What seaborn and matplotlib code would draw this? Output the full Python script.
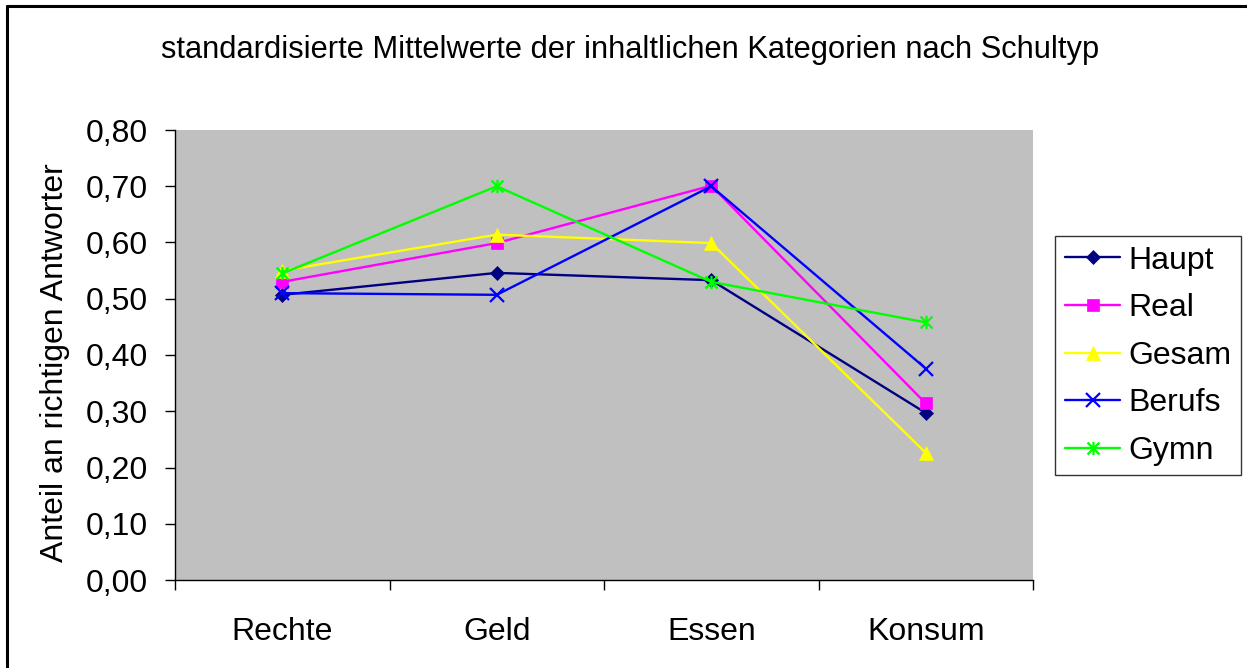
import matplotlib
matplotlib.use("Agg")
import matplotlib.pyplot as plt
import seaborn as sns
import pandas as pd
from matplotlib.path import Path
from matplotlib.lines import Line2D
from matplotlib.ticker import FixedLocator, FuncFormatter, MultipleLocator

categories = ["Rechte", "Geld", "Essen", "Konsum"]
series_names = ["Haupt", "Real", "Gesam", "Berufs", "Gymn"]
haupt = [0.507, 0.546, 0.533, 0.297]
real = [0.530, 0.599, 0.701, 0.314]
gesam = [0.550, 0.614, 0.599, 0.226]
berufs = [0.510, 0.507, 0.700, 0.376]
gymn = [0.545, 0.700, 0.530, 0.458]
title = "standardisierte Mittelwerte der inhaltlichen Kategorien nach Schultyp"
ylabel = "Anteil an richtigen Antworter"

values = [haupt, real, gesam, berufs, gymn]
rows = []
for name, vals in zip(series_names, values):
    for c, v in zip(categories, vals):
        rows.append({"Kategorie": c, "Wert": v, "Schultyp": name})
df = pd.DataFrame(rows)

sns.set_style("white")
plt.rcParams["font.family"] = ["Liberation Sans", "DejaVu Sans"]
plt.rcParams["text.color"] = "black"
plt.rcParams["axes.labelcolor"] = "black"
plt.rcParams["xtick.color"] = "black"
plt.rcParams["ytick.color"] = "black"

asterisk = Path(
    [(-1, -1), (1, 1), (-1, 1), (1, -1), (0, -1.1), (0, 1.1)],
    [Path.MOVETO, Path.LINETO, Path.MOVETO, Path.LINETO, Path.MOVETO, Path.LINETO],
)
palette = {"Haupt": "#000080", "Real": "#FF00FF", "Gesam": "#FFFF00",
           "Berufs": "#0000FF", "Gymn": "#00FF00"}
markers = {"Haupt": "D", "Real": "s", "Gesam": "^", "Berufs": "x", "Gymn": asterisk}
msizes = {"Haupt": 7.5, "Real": 8.5, "Gesam": 10, "Berufs": 9.5, "Gymn": 9.5}

FS = 23
W, H = 1247, 668
fig = plt.figure(figsize=(W / 100, H / 100), dpi=100)
ax = fig.add_axes([175 / W, (H - 580) / H, 858 / W, 450 / H])
ax.set_facecolor("#C0C0C0")

sns.lineplot(data=df, x="Kategorie", y="Wert", hue="Schultyp",
             hue_order=series_names, palette=palette, marker="o",
             legend=False, linewidth=1.7, ax=ax, sort=False)

for line, name in zip(ax.lines, series_names):
    c = palette[name]
    line.set_marker(markers[name])
    line.set_markeredgecolor(c)
    line.set_markerfacecolor(c)
    line.set_markersize(msizes[name])
    line.set_markeredgewidth(1.6 if name in ("Berufs", "Gymn") else 0.5)
    line.set_label(name)

ax.set_xlim(-0.5, 3.5)
ax.set_ylim(0, 0.8)
ax.yaxis.set_major_locator(MultipleLocator(0.1))
ax.yaxis.set_major_formatter(FuncFormatter(lambda v, p: f"{v:.2f}".replace(".", ",")))
ax.set_xticks(range(len(categories)))
ax.set_xticklabels(categories)
ax.xaxis.set_minor_locator(FixedLocator([-0.5, 0.5, 1.5, 2.5, 3.5]))
ax.tick_params(axis="x", which="major", length=0, pad=27, labelsize=FS)
ax.tick_params(axis="x", which="minor", length=7.2, width=1, direction="out", color="black",
               bottom=True)
ax.tick_params(axis="y", which="major", length=7.2, width=1, direction="out",
               color="black", labelsize=FS, pad=12, left=True)
for side in ("top", "right"):
    ax.spines[side].set_visible(False)
for side in ("left", "bottom"):
    ax.spines[side].set_color("black")
    ax.spines[side].set_linewidth(1)
ax.set_xlabel("")
ax.set_ylabel(ylabel, fontsize=FS)
ax.yaxis.set_label_coords(-0.122, 0.483)
ax.grid(False)

leg = ax.legend(loc="upper left", bbox_to_anchor=(1055 / W, (H - 236) / H),
                bbox_transform=fig.transFigure, frameon=True, fancybox=False,
                fontsize=FS, handlelength=1.75, handletextpad=0.25,
                labelspacing=0.55, borderpad=0.3, borderaxespad=0)
leg.get_frame().set_edgecolor("black")
leg.get_frame().set_linewidth(1)
leg.get_frame().set_facecolor("white")

fig.text(0.505, 1 - 50 / H, title, ha="center", va="center", fontsize=22.2)

fig.add_artist(Line2D([7 / W, 7 / W], [-0.1, 1 - 6 / H], transform=fig.transFigure,
                      color="black", linewidth=2.2))
fig.add_artist(Line2D([7 / W, 1.1], [1 - 6 / H, 1 - 6 / H], transform=fig.transFigure,
                      color="black", linewidth=2.2))

fig.savefig("out.png", dpi=100)
